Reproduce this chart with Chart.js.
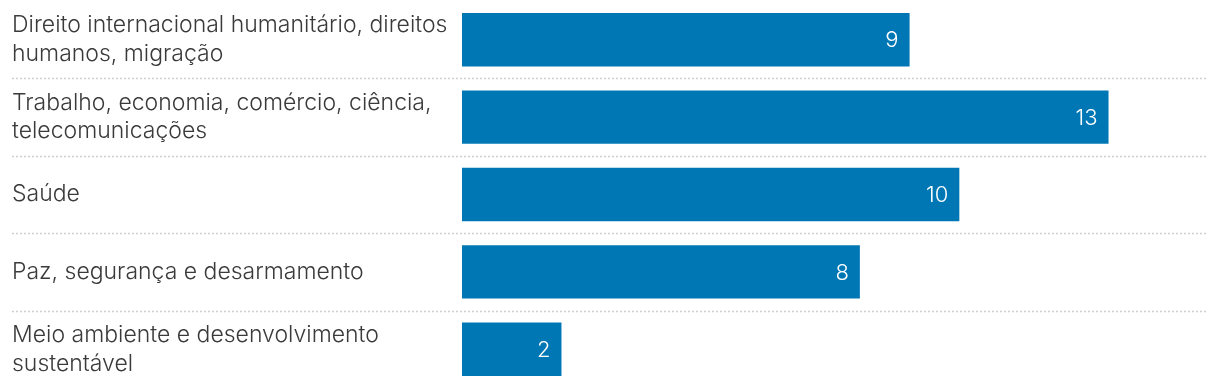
<!DOCTYPE html>
<html>
<head>
<meta charset="utf-8">
<script src="https://cdn.jsdelivr.net/npm/chart.js@4/dist/chart.umd.min.js"></script>
<style>
  html, body { margin: 0; padding: 0; background: #fff; }
  #wrap { width: 1220px; height: 390px; position: relative; }
</style>
</head>
<body>
<div id="wrap"><canvas id="chart"></canvas></div>
<script>
// data
const categories = [
    ["Direito internacional humanitário, direitos", "humanos, migração"],
    ["Trabalho, economia, comércio, ciência,", "telecomunicações"],
    ["Saúde"],
    ["Paz, segurança e desarmamento"],
    ["Meio ambiente e desenvolvimento", "sustentável"]
];
const counts = [9, 13, 10, 8, 2];
const axisMax = 15;

const BAR_COLOR = "#0077b5";
const FONT = "Inter";

// dotted separators between rows, full width (label column included)
const rowSeparators = {
    id: "rowSeparators",
    beforeDatasetsDraw(chart) {
        const ctx = chart.ctx;
        const y = chart.scales.y;
        const right = chart.chartArea.right;
        ctx.save();
        ctx.strokeStyle = "#cfcfcf";
        ctx.lineWidth = 1.5;
        ctx.setLineDash([2, 2]);
        for (let i = 0; i < categories.length - 1; i++) {
            const py = Math.round((y.getPixelForValue(i) + y.getPixelForValue(i + 1)) / 2) + 0.5;
            ctx.beginPath();
            ctx.moveTo(12, py);
            ctx.lineTo(right, py);
            ctx.stroke();
        }
        ctx.restore();
    }
};

// value inside the end of each bar
const valueLabels = {
    id: "valueLabels",
    afterDatasetsDraw(chart) {
        const ctx = chart.ctx;
        const meta = chart.getDatasetMeta(0);
        ctx.save();
        ctx.fillStyle = "#ffffff";
        ctx.font = "300 22px " + FONT;
        ctx.textAlign = "right";
        ctx.textBaseline = "middle";
        meta.data.forEach((bar, i) => {
            ctx.fillText(String(counts[i]), bar.x - 11, bar.y + 1);
        });
        ctx.restore();
    }
};

new Chart(document.getElementById("chart"), {
    type: "bar",
    data: {
        labels: categories,
        datasets: [{
            data: counts,
            backgroundColor: BAR_COLOR,
            borderWidth: 0,
            barPercentage: 0.69,
            categoryPercentage: 1.0
        }]
    },
    options: {
        indexAxis: "y",
        responsive: true,
        maintainAspectRatio: false,
        animation: false,
        layout: { padding: { left: 12, right: 12, top: 1, bottom: 2 } },
        plugins: {
            legend: { display: false },
            tooltip: { enabled: false }
        },
        scales: {
            x: {
                min: 0,
                max: axisMax,
                display: false
            },
            y: {
                grid: { display: false },
                border: { display: false },
                afterFit(scale) {
                    scale.width = 450;
                    // multi-line labels would otherwise push the plot inward
                    scale.paddingTop = 0;
                    scale.paddingBottom = 0;
                },
                ticks: {
                    crossAlign: "far",
                    color: "#3a3a3a",
                    font: { family: FONT, size: 23, weight: "300", lineHeight: 1.25 }
                }
            }
        }
    },
    plugins: [rowSeparators, valueLabels]
});
</script>
</body>
</html>
